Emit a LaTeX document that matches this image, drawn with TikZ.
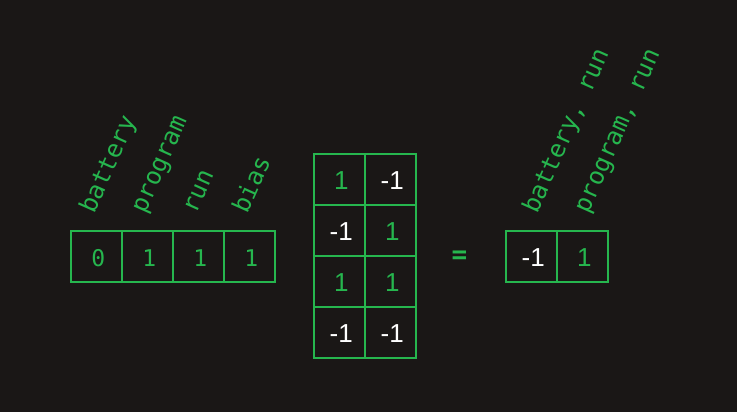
\documentclass[tikz,border=0pt]{standalone}
\usepackage{fontspec}
\newfontfamily\monofont{DejaVu Sans Mono}
\newfontfamily\numfont{Liberation Sans}
\definecolor{bg}{RGB}{26,23,22}
\definecolor{lime}{RGB}{38,182,78}
\tikzset{
	cell/.style={draw=lime,line width=1.5pt,minimum size=51pt,inner sep=0pt,anchor=north west},
	vecval/.style={text=lime,font=\monofont\fontsize{23}{27}\selectfont,xshift=2pt,yshift=-2pt},
	matval/.style={font=\numfont\fontsize{26}{30}\selectfont,xshift=2pt,yshift=-1.5pt},
	negval/.style={matval,text=white},
	posval/.style={matval,text=lime},
	tag/.style={text=lime,font=\monofont\fontsize{24.5}{28}\selectfont,rotate=66,anchor=base west,inner sep=0pt}
}
\begin{document}
\begin{tikzpicture}[x=1pt,y=-1pt]
		\fill[bg] (0,0) rectangle (737,412);
		\useasboundingbox (0,0) rectangle (737,412);
		
		% input vector
		\node[cell] (v1) at (70,230) {};
		\node[cell] (v2) at (121,230) {};
		\node[cell] (v3) at (172,230) {};
		\node[cell] (v4) at (223,230) {};
		\node[vecval] at (v1.center) {0};
		\node[vecval] at (v2.center) {1};
		\node[vecval] at (v3.center) {1};
		\node[vecval] at (v4.center) {1};
		
		\node[tag] (lbattery) at (94,215) {battery};
		\node[tag] (lprogram) at (145,215) {program};
		\node[tag] (lrun) at (196,215) {run};
		\node[tag] (lbias) at (247,215) {bias};
		
		% weights
		\node[cell] (m11) at (313,153) {};
		\node[cell] (m12) at (364,153) {};
		\node[cell] (m21) at (313,204) {};
		\node[cell] (m22) at (364,204) {};
		\node[cell] (m31) at (313,255) {};
		\node[cell] (m32) at (364,255) {};
		\node[cell] (m41) at (313,306) {};
		\node[cell] (m42) at (364,306) {};
		\node[posval] at (m11.center) {1};
		\node[negval] at (m12.center) {-1};
		\node[negval] at (m21.center) {-1};
		\node[posval] at (m22.center) {1};
		\node[posval] at (m31.center) {1};
		\node[posval] at (m32.center) {1};
		\node[negval] at (m41.center) {-1};
		\node[negval] at (m42.center) {-1};
		
		\node[text=lime,font=\monofont\bfseries\fontsize{26}{30}\selectfont] (eq) at (459.5,257) {=};
		
		% output
		\node[cell] (r1) at (505,230) {};
		\node[cell] (r2) at (556,230) {};
		\node[negval] at (r1.center) {-1};
		\node[posval] at (r2.center) {1};
		
		\node[tag] (lbr) at (537,215) {battery, run};
		\node[tag] (lpr) at (588,215) {program, run};
	\end{tikzpicture}
\end{document}
